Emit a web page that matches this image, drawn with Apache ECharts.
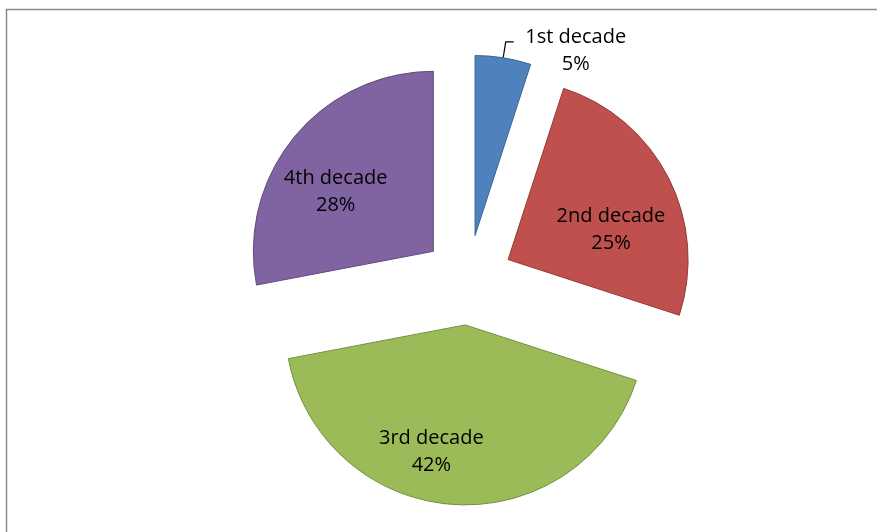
<!DOCTYPE html>
<html>
<head>
<meta charset="utf-8">
<script src="https://cdn.jsdelivr.net/npm/echarts@6/dist/echarts.min.js"></script>
<style>
html,body{margin:0;padding:0;background:#fff;}
#c{width:877px;height:532px;}
</style>
</head>
<body>
<div id="c"></div>
<script>
var categories = ['1st decade', '2nd decade', '3rd decade', '4th decade'];
var values = [5, 25, 42, 28];
var colors = ['#4F81BD', '#C0504D', '#9BBB59', '#8064A2'];
var edgeColors = ['#3A6394', '#8E3A38', '#74903F', '#5F4A7B'];

var labelShift = [[2, 9], [20, 12], [-28, 34], [-26, 0]];

var chart = echarts.init(document.getElementById('c'), null, {renderer: 'canvas'});
var data = categories.map(function (name, i) {
  var item = {
    name: name,
    value: values[i],
    selected: true,
    itemStyle: {color: colors[i], borderColor: edgeColors[i], borderWidth: 1}
  };
  if (i === 0) {
    item.label = {
      position: 'outside',
      formatter: function (p) { return '{a|' + p.name + '}\n{a|' + Math.round(p.percent) + '%}'; },
      rich: {a: {width: 110, align: 'center', fontFamily: 'Open Sans', fontSize: 20, lineHeight: 27, color: '#000'}}
    };
    item.labelLine = {show: true, length: 16, length2: 8};
  } else {
    item.label = {position: 'inside'};
    item.labelLine = {show: false};
  }
  return item;
});

chart.setOption({
  backgroundColor: '#ffffff',
  animation: false,
  graphic: [{
    type: 'rect', left: 4, top: 7,
    shape: {width: 900, height: 600},
    style: {fill: 'none', stroke: '#8a8a8a', lineWidth: 1.5},
    silent: true
  }],
  series: [{
    type: 'pie',
    center: [468, 280],
    radius: ['0%', 180],
    startAngle: 90,
    clockwise: true,
    selectedMode: 'multiple',
    selectedOffset: 45,
    emphasis: {disabled: true},
    label: {
      show: true,
      color: '#000',
      fontFamily: 'Open Sans',
      fontSize: 20,
      lineHeight: 27,
      formatter: function (p) { return p.name + '\n' + Math.round(p.percent) + '%'; }
    },
    labelLine: {
      lineStyle: {color: '#000', width: 1.2},
      smooth: false
    },
    labelLayout: function (params) {
      var s = labelShift[params.dataIndex];
      return {dx: s[0], dy: s[1]};
    },
    data: data
  }]
});
</script>
</body>
</html>
